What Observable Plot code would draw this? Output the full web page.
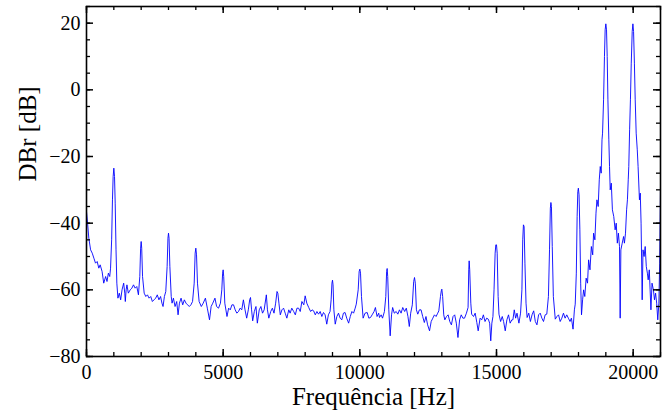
<!DOCTYPE html>
<html>
<head>
<meta charset="utf-8">
<script src="https://cdn.jsdelivr.net/npm/d3@7"></script>
<script src="https://cdn.jsdelivr.net/npm/@observablehq/plot@0.6"></script>
<style>
  html, body { margin: 0; padding: 0; background: #fff; }
  #chart svg { display: block; }
  #chart svg, #chart svg text { font-family: "Liberation Serif", "Times New Roman", serif !important; }
</style>
</head>
<body>
<div id="chart"></div>
<script>
// ---- data ----
const freqHz = [
  0,40,85,150,210,270,330,390,450,500,570,630,700,750,800,850,880,920,950,975,
  1000,1025,1050,1080,1110,1150,1200,1250,1300,1360,1400,1420,1450,1480,1530,1600,1660,1720,1780,1840,
  1900,1950,1980,2000,2020,2050,2110,2170,2230,2290,2350,2410,2470,2530,2590,2650,2710,2760,2800,2850,
  2900,2950,2980,3000,3020,3050,3100,3130,3180,3240,3300,3350,3400,3460,3520,3580,3640,3700,3760,3820,
  3880,3940,3975,4000,4025,4060,4120,4200,4270,4350,4420,4500,4560,4620,4700,4760,4830,4900,4950,4980,
  5000,5020,5060,5140,5200,5260,5320,5380,5440,5500,5560,5620,5680,5740,5800,5860,5920,5970,6000,6040,
  6080,6140,6200,6250,6320,6380,6440,6500,6580,6620,6670,6740,6800,6860,6920,6970,7000,7040,7090,7150,
  7210,7270,7330,7400,7450,7510,7580,7640,7700,7760,7820,7880,7950,8000,8060,8130,8200,8250,8310,8370,
  8430,8490,8550,8610,8670,8730,8790,8850,8910,8950,8980,9000,9020,9050,9100,9160,9220,9280,9340,9400,
  9460,9520,9590,9650,9710,9770,9830,9870,9940,9975,10000,10025,10060,10120,10190,10270,10330,10390,10450,10520,
  10570,10630,10690,10720,10780,10830,10900,10950,10980,11000,11020,11060,11110,11160,11200,11260,11330,11390,11450,11510,
  11570,11640,11700,11760,11810,11860,11920,11970,12000,12030,12070,12120,12180,12240,12300,12360,12420,12480,12550,12610,
  12670,12730,12790,12850,12890,12950,12980,13000,13030,13070,13110,13170,13230,13290,13350,13410,13470,13530,13590,13650,
  13710,13770,13830,13900,13960,13985,14000,14020,14060,14090,14160,14220,14280,14330,14400,14460,14520,14580,14640,14700,
  14750,14790,14830,14870,14910,14950,14975,15000,15025,15060,15090,15150,15210,15260,15320,15380,15440,15500,15560,15600,
  15650,15700,15750,15820,15880,15930,15960,15985,16010,16040,16080,16120,16180,16240,16300,16360,16420,16480,16540,16600,
  16660,16720,16780,16840,16900,16940,16970,16990,17010,17040,17080,17150,17210,17270,17330,17390,17450,17510,17570,17630,
  17690,17740,17800,17850,17880,17920,17950,17975,17995,18020,18050,18080,18110,18150,18187,18230,18280,18330,18370,18420,
  18470,18520,18552,18600,18640,18674,18720,18760,18796,18830,18860,18880,18917,18950,18975,19000,19025,19050,19076,19110,
  19135,19160,19200,19240,19290,19340,19380,19420,19460,19500,19525,19550,19600,19650,19680,19720,19760,19790,19820,19840,
  19870,19900,19930,19965,19990,20015,20045,20075,20110,20150,20180,20230,20260,20290,20330,20360,20400,20440,20480,20520,
  20550,20590,20620,20650,20690,20740,20780,20820,20860,20900,20940,20970,21000
];
const levelDb = [
  -36.5,-40,-44.5,-48,-49,-50.5,-52,-51.5,-53.5,-52.5,-54.5,-58,-56,-57.5,-55,-56,-53.5,-45,-33,-26,
  -23.5,-26,-34,-48,-58,-62.5,-61,-63,-60,-58,-61,-63.5,-60,-58.5,-61,-60,-59.5,-58.5,-59.5,-59,
  -61.5,-56,-47.5,-45.5,-47.5,-56,-61,-62,-61.5,-62.5,-62,-63.5,-63,-62.5,-61.5,-63,-62,-64,-65,-62,
  -60.5,-53,-44.5,-43,-44.5,-53,-62,-64,-62.5,-65,-63.5,-67.5,-64,-62.5,-64.5,-63,-64,-64.5,-65,-64.5,
  -63.5,-58,-49,-47.5,-49.5,-58,-63.5,-65,-64,-62.5,-65.5,-69,-65,-64,-62.5,-65,-65.5,-64,-60,-55,
  -54,-56,-64,-68,-65.5,-66,-64.5,-64.5,-66,-67,-66.5,-65.5,-66,-63,-66,-68.5,-66,-63,-62.3,-66,
  -69.3,-66.5,-65,-70,-66,-65,-67,-66,-61.5,-66,-68.5,-66.5,-65.5,-67,-64,-60.5,-61,-64,-67.5,-66,
  -65.5,-67,-68.5,-66,-67,-65.5,-66.5,-67.5,-65.5,-65.5,-66.5,-63.5,-64.5,-61.8,-64,-65.3,-66.5,-66,-66.3,-67.5,
  -66.5,-67.3,-66.5,-68,-66.8,-67.5,-70.3,-67.5,-66.5,-63,-58,-57.1,-58.5,-66,-70.3,-68,-67,-68.5,-69,-67,
  -66.8,-68.5,-70,-68,-66.5,-67,-65.5,-64.3,-60,-54.5,-53.8,-55,-62,-68.5,-67,-66.8,-68.5,-68.3,-67.5,-66.5,
  -65.3,-68,-67,-68.3,-67.5,-68.5,-66.5,-62,-54.5,-53.6,-56,-66,-73.8,-67.5,-65.3,-67,-66.5,-67.3,-66,-67,
  -65.3,-66.5,-65.5,-68,-71,-67,-64.5,-57.5,-56.3,-58,-66,-67.3,-66,-66,-68,-69.8,-68,-70.5,-72.3,-69.5,
  -68.5,-67.5,-68,-67,-66.3,-62,-60.3,-59.8,-62,-67.5,-69,-68,-67.5,-69.5,-70.5,-68,-67.5,-70,-74.3,-69,
  -67.5,-68.5,-68.5,-67,-65.3,-54,-51.3,-54,-64,-67.3,-68,-67,-69.8,-72.3,-68.5,-69,-67.5,-69.5,-68.5,-68.8,
  -70,-75.3,-70,-68,-60,-49,-46.5,-46.5,-49,-62,-67.3,-69.5,-68,-69.5,-72.3,-69,-67.5,-70,-69,-69,
  -66,-68.5,-67,-70,-67,-60,-45,-40.5,-41,-52,-64,-68.3,-67,-69.5,-67.5,-66.3,-69.5,-70.5,-67.5,-67,
  -68.5,-69.5,-67.5,-67.3,-62,-48,-35.5,-33.8,-35,-47,-62,-68.8,-68,-67.5,-69.5,-68.5,-67,-68.5,-67.5,-68.5,
  -69.5,-68.5,-71.8,-66,-64.3,-55,-38,-30.5,-29.5,-31.5,-42,-58,-67.5,-63,-60,-62,-56.5,-58,-51,-54,
  -47,-49.5,-43,-45,-37,-33,-35,-27,-23,-25,-15,-13,-3,10,18,19.8,18,10,-3,-15,
  -23,-30,-28,-36,-38,-42,-40,-46,-43,-47,-68.5,-48,-46,-44,-46,-43,-36,-33,-27,-23,
  -12,-3,8,17.5,19.8,17.5,8,-3,-13,-18,-23,-33,-31,-40,-63,-48,-50,-47,-53,-55,
  -57,-54,-60,-66,-58,-60,-63,-61,-64,-69,-64,-52,-29
];
const xMajorTicks = [0, 5000, 10000, 15000, 20000];
const xMinorTicks = d3.range(0, 21001, 1000);
const yMajorTicks = [-80, -60, -40, -20, 0, 20];
const yMinorTicks = d3.range(-80, 26, 5);
const xLabel = "Frequência [Hz]";
const yLabel = "DBr [dB]";

// ---- layout ----
const W = 669, H = 415;
const mL = 86, mR = 9, mT = 6, mB = 59;
const plotW = W - mL - mR, plotH = H - mT - mB;
const majorLen = 7, minorLen = 4;
const serif = "Liberation Serif";

const spectrum = freqHz.map((f, i) => ({f, db: levelDb[i]}));

const chart = Plot.plot({
  width: W,
  height: H,
  marginLeft: mL,
  marginRight: mR,
  marginTop: mT,
  marginBottom: mB,
  style: {color: "#000", background: "#fff"},
  x: {domain: [0, 21000]},
  y: {domain: [-80, 25]},
  marks: [
    Plot.line(spectrum, {x: "f", y: "db", stroke: "#0000ff", strokeWidth: 0.9, clip: true}),
    // inward ticks on all four sides
    Plot.tickX(xMinorTicks, {x: d => d, insetTop: plotH - minorLen, stroke: "#000", strokeWidth: 1.3}),
    Plot.tickX(xMinorTicks, {x: d => d, insetBottom: plotH - minorLen, stroke: "#000", strokeWidth: 1.3}),
    Plot.tickX(xMajorTicks, {x: d => d, insetTop: plotH - majorLen, stroke: "#000", strokeWidth: 1.5}),
    Plot.tickX(xMajorTicks, {x: d => d, insetBottom: plotH - majorLen, stroke: "#000", strokeWidth: 1.5}),
    Plot.tickY(yMinorTicks, {y: d => d, insetRight: plotW - minorLen, stroke: "#000", strokeWidth: 1.3}),
    Plot.tickY(yMinorTicks, {y: d => d, insetLeft: plotW - minorLen, stroke: "#000", strokeWidth: 1.3}),
    Plot.tickY(yMajorTicks, {y: d => d, insetRight: plotW - majorLen, stroke: "#000", strokeWidth: 1.5}),
    Plot.tickY(yMajorTicks, {y: d => d, insetLeft: plotW - majorLen, stroke: "#000", strokeWidth: 1.5}),
    Plot.frame({stroke: "#000", strokeWidth: 1.6}),
    // tick labels
    Plot.axisX({ticks: xMajorTicks, tickSize: 0, tickPadding: 8, fontSize: 20, fontFamily: serif, label: null, tickFormat: d => String(d)}),
    Plot.axisY({ticks: yMajorTicks, tickSize: 0, tickPadding: 6, fontSize: 20, fontFamily: serif, label: null, tickFormat: d => d < 0 ? "\u2212" + Math.abs(d) : String(d)}),
    // axis titles
    Plot.text([xLabel], {text: d => d, frameAnchor: "bottom", dy: 48, fontSize: 25, fontFamily: serif, fill: "#000"}),
    Plot.text([yLabel], {text: d => d, frameAnchor: "left", dx: -59, rotate: -90, fontSize: 25, fontFamily: serif, fill: "#000"})
  ]
});
document.getElementById("chart").appendChild(chart);
</script>
</body>
</html>
